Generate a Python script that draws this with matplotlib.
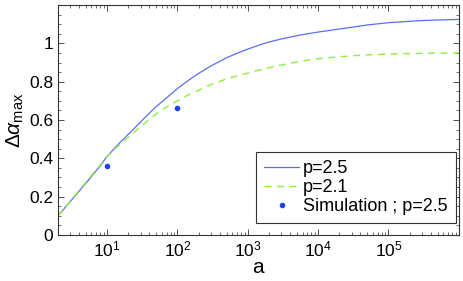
import numpy as np
import matplotlib
matplotlib.use('Agg')
import matplotlib.pyplot as plt
from matplotlib.ticker import MultipleLocator, LogLocator, NullFormatter, FuncFormatter

plt.rcParams['font.family'] = ['Liberation Sans', 'DejaVu Sans']
plt.rcParams['mathtext.fontset'] = 'custom'
plt.rcParams['mathtext.rm'] = 'Liberation Sans'
plt.rcParams['mathtext.it'] = 'Liberation Sans:italic'

# values
a_vals = [2, 2.5, 3, 4, 5, 6, 7, 8, 10, 13, 16, 20, 25, 30, 40, 50, 70, 100,
          150, 200, 300, 500, 700, 1e3, 1.5e3, 2e3, 3e3, 5e3, 7e3, 1e4, 2e4,
          3e4, 5e4, 1e5, 2e5, 3e5, 5e5, 1e6]
alpha_p25 = [0.10, 0.14, 0.175, 0.228, 0.27, 0.305, 0.335, 0.36, 0.41, 0.455,
             0.49, 0.525, 0.56, 0.59, 0.636, 0.67, 0.715, 0.764, 0.812, 0.843,
             0.882, 0.925, 0.948, 0.970, 0.993, 1.007, 1.023, 1.040, 1.050,
             1.059, 1.075, 1.084, 1.096, 1.108, 1.115, 1.119, 1.122, 1.125]
alpha_p21 = [0.10, 0.14, 0.177, 0.232, 0.275, 0.31, 0.34, 0.365, 0.41, 0.45,
             0.48, 0.51, 0.54, 0.565, 0.603, 0.632, 0.668, 0.70, 0.735, 0.755,
             0.785, 0.815, 0.83, 0.845, 0.862, 0.873, 0.887, 0.903, 0.912,
             0.92, 0.93, 0.935, 0.94, 0.944, 0.947, 0.948, 0.949, 0.95]
sim_a = [10, 100]
sim_alpha = [0.36, 0.66]

fig = plt.figure(figsize=(4.63, 2.81), dpi=100)
ax = fig.add_axes([0.125, 0.164, 0.866, 0.818])

ax.plot(a_vals, alpha_p25, color='#5a6ef5', lw=0.9, label='p=2.5')
ax.plot(a_vals, alpha_p21, color='#8cf03c', lw=1.0, ls=(0, (5, 4)), label='p=2.1')
ax.plot(sim_a, sim_alpha, ls='none', marker='o', ms=3, color='#2040f0',
        label='Simulation ; p=2.5')

ax.set_xscale('log')
ax.set_xlim(2, 1e6)
ax.set_ylim(0, 1.2)
ax.set_xticks([1e1, 1e2, 1e3, 1e4, 1e5])
ax.xaxis.set_minor_locator(LogLocator(base=10, subs=np.arange(2, 10)))
ax.xaxis.set_minor_formatter(NullFormatter())
ax.yaxis.set_major_locator(MultipleLocator(0.2))
ax.yaxis.set_minor_locator(MultipleLocator(0.05))


def ylab(v, pos):
    if v > 1.1 or v < -0.01:
        return ''
    return '%g' % round(v, 1)


ax.yaxis.set_major_formatter(FuncFormatter(ylab))

ax.tick_params(which='both', direction='in', top=True, right=True,
               labelsize=12.5, color='#333333')
ax.tick_params(which='major', length=4, width=0.6)
ax.tick_params(which='minor', length=2, width=0.5)
for sp in ax.spines.values():
    sp.set_color('#333333')
    sp.set_linewidth(0.8)

ax.set_xlabel('a', fontsize=15, labelpad=-1)
ax.set_ylabel(r'$\Delta\alpha_{\mathrm{max}}$', fontsize=15, labelpad=2)

leg = ax.legend(loc='lower right', bbox_to_anchor=(0.993, 0.052),
                fontsize=13, fancybox=False, edgecolor='#333333',
                framealpha=1, borderpad=0.45, handlelength=1.9,
                handletextpad=0.25, labelspacing=0.1, borderaxespad=0)
leg.get_frame().set_linewidth(0.8)

fig.savefig('out.png', dpi=100)
